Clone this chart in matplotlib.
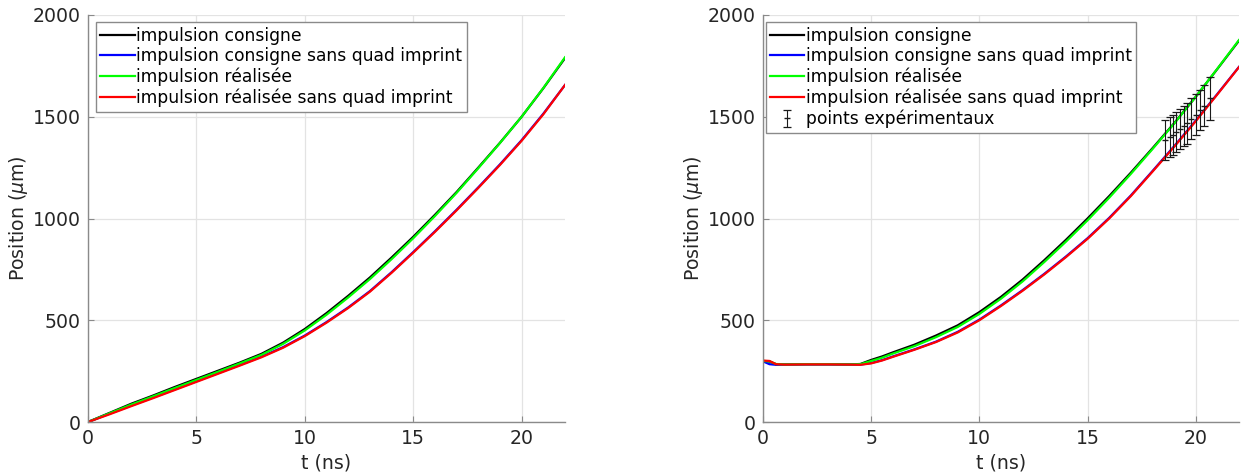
import matplotlib
matplotlib.use("Agg")
import matplotlib.pyplot as plt

# left panel : simulated trajectories, no foil offset
t_left = [0, 1, 2, 3, 4, 5, 6, 7, 8, 9, 10, 11, 12, 13, 14, 15, 16, 17, 18, 19, 20, 21, 22]
consigne_l = [0, 45, 90, 130, 172, 212, 252, 292, 335, 390, 457, 535, 620, 710, 808, 910,
              1018, 1130, 1250, 1372, 1500, 1640, 1788]
consigne_sq_l = [0, 41, 81, 120, 160, 200, 240, 280, 321, 368, 425, 491, 563, 643, 736, 835,
                 937, 1043, 1153, 1266, 1385, 1515, 1656]
realisee_l = [0, 43, 86, 126, 167, 207, 247, 288, 330, 384, 450, 527, 612, 702, 800, 903,
              1012, 1126, 1247, 1371, 1500, 1641, 1792]
realisee_sq_l = [0, 38, 78, 117, 157, 197, 237, 277, 318, 365, 422, 488, 560, 640, 733, 832,
                 934, 1040, 1150, 1263, 1382, 1512, 1656]

# right panel : simulated trajectories + measured points
t_right = [0, 0.3, 0.6, 1, 2, 3, 4, 4.5, 5, 5.5, 6, 7, 8, 9, 10, 11, 12, 13, 14, 15,
           16, 17, 18, 19, 20, 21, 22]
consigne_r = [300, 297, 284, 283, 284, 284, 283, 285, 305, 322, 342, 380, 425, 475, 540, 615,
              700, 795, 895, 1000, 1110, 1225, 1345, 1468, 1598, 1735, 1874]
consigne_sq_r = [298, 284, 281, 282, 283, 283, 282, 282, 290, 304, 322, 357, 395, 443, 503, 573,
                 648, 728, 813, 903, 1003, 1113, 1233, 1355, 1481, 1612, 1745]
realisee_r = [300, 298, 285, 283, 284, 284, 283, 284, 300, 316, 336, 373, 417, 467, 531, 606,
              691, 786, 886, 991, 1102, 1219, 1341, 1466, 1598, 1736, 1877]
realisee_sq_r = [302, 300, 284, 282, 283, 283, 282, 281, 288, 302, 320, 355, 393, 440, 500, 570,
                 645, 725, 810, 900, 1000, 1110, 1230, 1352, 1478, 1610, 1744]

exp_t = [18.6, 18.8, 18.95, 19.1, 19.27, 19.45, 19.6, 19.8, 20.0, 20.2, 20.4, 20.65]
exp_pos = [1385, 1400, 1412, 1425, 1440, 1455, 1468, 1490, 1510, 1533, 1555, 1590]
exp_err = [98, 98, 98, 100, 100, 100, 100, 100, 100, 100, 102, 105]

labels = ['impulsion consigne', 'impulsion consigne sans quad imprint',
          'impulsion réalisée', 'impulsion réalisée sans quad imprint']
colors = ['#000000', '#0000ff', '#00ff00', '#ff0000']

plt.rcParams['font.family'] = ['DejaVu Sans']
txt = '#262626'

fig = plt.figure(figsize=(12.41, 4.76), dpi=100)
ax1 = fig.add_axes([88 / 1241, 54 / 476, 477 / 1241, 407 / 476])
ax2 = fig.add_axes([763 / 1241, 54 / 476, 476 / 1241, 407 / 476])


def style(ax):
    ax.set_xlim(0, 22)
    ax.set_ylim(0, 2000)
    ax.set_xticks([0, 5, 10, 15, 20])
    ax.set_yticks([0, 500, 1000, 1500, 2000])
    ax.grid(True, color='#e3e3e3', lw=0.9)
    ax.set_axisbelow(True)
    for s in ['top', 'right']:
        ax.spines[s].set_visible(False)
    for s in ['left', 'bottom']:
        ax.spines[s].set_color('#8a8a8a')
        ax.spines[s].set_linewidth(1.0)
    ax.tick_params(direction='in', length=4, color='#8a8a8a', labelsize=13.6,
                   labelcolor=txt, pad=5)
    ax.set_xlabel('t (ns)', fontsize=13.6, color=txt, labelpad=4)
    ax.set_ylabel(r'Position ($\mu$m)', fontsize=13.6, color=txt, labelpad=2)


left_series = [consigne_l, consigne_sq_l, realisee_l, realisee_sq_l]
for ys, c, lab in zip(left_series, colors, labels):
    ax1.plot(t_left, ys, color=c, lw=1.6, label=lab)
style(ax1)
ax1.legend(loc='upper left', bbox_to_anchor=(0.017, 0.982), borderaxespad=0,
           fontsize=12.3, fancybox=False, edgecolor='#8a8a8a', framealpha=1,
           handlelength=2.0, handletextpad=0.1, borderpad=0.25, labelspacing=0.15)

right_series = [consigne_r, consigne_sq_r, realisee_r, realisee_sq_r]
for ys, c, lab in zip(right_series, colors, labels):
    ax2.plot(t_right, ys, color=c, lw=1.6, label=lab)
ax2.errorbar(exp_t, exp_pos, yerr=exp_err, fmt='_', color='#1a1a1a', ms=5, lw=0.8,
             capsize=2.8, capthick=0.9, label='points expérimentaux')
style(ax2)
ax2.legend(loc='upper left', bbox_to_anchor=(0.006, 0.982), borderaxespad=0,
           fontsize=12.3, fancybox=False, edgecolor='#8a8a8a', framealpha=1,
           handlelength=2.0, handletextpad=0.1, borderpad=0.25, labelspacing=0.15)

fig.savefig('out.png', dpi=100)
